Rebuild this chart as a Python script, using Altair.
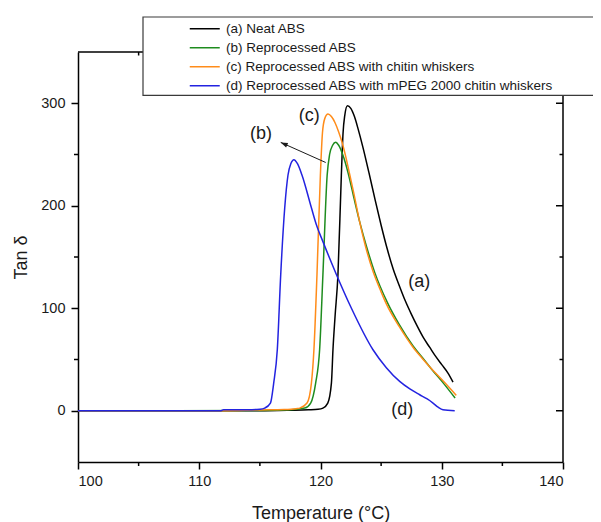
import altair as alt
import pandas as pd

# ---------------- data ----------------
series_names = [
    "(a) Neat ABS",
    "(b) Reprocessed ABS",
    "(c) Reprocessed ABS with chitin whiskers",
    "(d) Reprocessed ABS with mPEG 2000 chitin whiskers",
]
series_colors = ["#000000", "#1e8c1e", "#ff8c1a", "#2323e0"]

a_T = [100, 115, 117.5, 119, 119.8, 120.2, 120.6, 120.9, 121.03, 121.2, 121.44, 121.72, 121.86,
       122.0, 122.22, 122.5, 122.8, 123.1, 123.5, 124.0, 124.5, 125.0, 125.5, 126.0, 126.5,
       127.0, 127.5, 128.0, 128.5, 129.0, 129.5, 130.0, 130.5, 130.93]
a_v = [0, 0, 0.5, 1, 1.5, 2.6, 7.5, 27, 60, 92, 133, 230, 271,
       288, 297.6, 295, 287, 275, 257, 232, 206, 181, 158, 138, 122,
       107, 94, 82, 71, 62, 53, 45, 37, 28]

b_T = [100, 114, 117, 118, 118.7, 119.19, 119.6, 119.93, 120.2, 120.55, 120.75, 121.0, 121.25,
       121.5, 121.8, 122.05, 122.3, 122.75, 123.26, 123.8, 124.47, 125.5, 126.5, 127.65, 128.4,
       129.2, 130.2, 131.1]
b_v = [0, 0.3, 0.8, 1.5, 2.6, 7.5, 27, 60, 133, 230, 250, 259, 262,
       259, 251, 242, 231, 208, 183, 160, 135, 106, 84, 63, 52,
       40, 26, 12.4]

c_T = [100, 112, 115, 117, 118, 118.29, 118.89, 119.25, 119.46, 119.71, 119.99, 120.16, 120.35,
       120.62, 120.9, 121.2, 121.5, 121.8, 122.1, 122.4, 122.75, 123.18, 123.7, 124.33, 125.0,
       125.44, 126.5, 127.63, 128.4, 129.15, 130.2, 131.2]
c_v = [0, 0, 0.8, 1.2, 2, 2.6, 7.5, 27, 60, 133, 230, 271, 285,
       289.5, 287, 281, 272, 261, 247, 231, 212, 187, 161, 136, 116,
       104, 82, 62, 51, 41, 28, 15]

d_T = [100, 111.8, 112, 114, 115, 115.4, 115.87, 116.14, 116.44, 116.72, 117.05, 117.32, 117.55,
       117.81, 118.1, 118.47, 119.25, 119.66, 120.2, 121.31, 122.55, 124.33, 125.43, 126.53,
       127.4, 128.18, 128.8, 129.28, 129.7, 130.1, 131.07]
d_v = [0, 0, 1, 1, 1.5, 2.6, 7.5, 27, 60, 133, 198, 230, 241,
       245, 241, 230, 198, 181.5, 165, 133, 100, 59.5, 42, 28.6,
       21, 15.6, 11.5, 7.5, 3.5, 1, 0]

x_major = [100, 110, 120, 130, 140]
x_minor = [105, 115, 125, 135]
x_top_major = [110, 120, 130]
y_major = [0, 100, 200, 300]
y_minor = [50, 150, 250]

label_T = [128.14, 115.09, 119.08, 126.74]
label_v = [125.9, 270, 287.6, 0.5]
label_text = ["(a)", "(b)", "(c)", "(d)"]

arrow_T = [120.43, 116.72]
arrow_v = [242.2, 261.8]

# ---------------- build tables ----------------
rows = []
for name, Ts, vs in zip(series_names, [a_T, b_T, c_T, d_T], [a_v, b_v, c_v, d_v]):
    for i, (t, v) in enumerate(zip(Ts, vs)):
        rows.append({"T": t, "v": v, "series": name, "i": i})
df = pd.DataFrame(rows)
df_lab = pd.DataFrame({"T": label_T, "v": label_v, "text": label_text})
df_arrow = pd.DataFrame({"T": arrow_T, "v": arrow_v})
df_head = df_arrow.iloc[[1]]
one = pd.DataFrame({"k": [0]})

W, H = 485, 410
FONT = "Liberation Sans"
INK = "#1a1a1a"

xscale = alt.Scale(domain=[100, 140], nice=False, zero=False)
yscale = alt.Scale(domain=[-50, 350], nice=False, zero=False)

lines = alt.Chart(df).mark_line(strokeWidth=1.5, interpolate="monotone").encode(
    x=alt.X("T:Q", scale=xscale,
            axis=alt.Axis(values=x_major, format="d", title="Temperature (°C)", grid=False,
                          domainColor="black", domainWidth=1.5, tickColor="black", tickWidth=1.5,
                          tickSize=7, labelPadding=5, labelFontSize=14.5, labelColor=INK,
                          labelFont=FONT, titleFont=FONT, titleFontSize=18, titleFontWeight="normal",
                          titleColor=INK, titlePadding=17)),
    y=alt.Y("v:Q", scale=yscale,
            axis=alt.Axis(values=y_major, format="d", title="Tan δ", grid=False,
                          domainColor="black", domainWidth=1.5, tickColor="black", tickWidth=1.5,
                          tickSize=7, labelPadding=6, labelFontSize=14.5, labelColor=INK,
                          labelFont=FONT, titleFont=FONT, titleFontSize=18, titleFontWeight="normal",
                          titleColor=INK, titlePadding=10)),
    color=alt.Color("series:N", scale=alt.Scale(domain=series_names, range=series_colors),
                    legend=alt.Legend(orient="none", legendX=120, legendY=-30, title=None,
                                      symbolType="M-3,0H3", symbolSize=100, symbolStrokeWidth=1.5,
                                      labelFont=FONT, labelFontSize=13.5, labelColor=INK,
                                      labelOffset=14.4, rowPadding=4, padding=0,
                                      labelLimit=600)),
    order="i:Q",
)

labels = alt.Chart(df_lab).mark_text(font=FONT, fontSize=18, color=INK).encode(
    x=alt.X("T:Q", scale=xscale), y=alt.Y("v:Q", scale=yscale), text="text:N")

arrow = alt.Chart(df_arrow).mark_line(color=INK, strokeWidth=1).encode(
    x=alt.X("T:Q", scale=xscale), y=alt.Y("v:Q", scale=yscale))
head = alt.Chart(df_head).mark_point(shape="M0,0L-0.35,1L0.35,1Z", filled=True, angle=294,
                                     size=196, color=INK, opacity=1).encode(
    x=alt.X("T:Q", scale=xscale), y=alt.Y("v:Q", scale=yscale))

top_line = alt.Chart(one).mark_rule(color="black", strokeWidth=1.5).encode(
    x=alt.value(0), x2=alt.value(W), y=alt.value(0))
right_line = alt.Chart(one).mark_rule(color="black", strokeWidth=1.5).encode(
    x=alt.value(W), y=alt.value(0), y2=alt.value(H))

def xticks(vals, y0, y1):
    return alt.Chart(pd.DataFrame({"T": vals})).mark_rule(color="black", strokeWidth=1.5).encode(
        x=alt.X("T:Q", scale=xscale), y=alt.value(y0), y2=alt.value(y1))

def yticks(vals, x0, x1):
    return alt.Chart(pd.DataFrame({"v": vals})).mark_rule(color="black", strokeWidth=1.5).encode(
        y=alt.Y("v:Q", scale=yscale), x=alt.value(x0), x2=alt.value(x1))

ticks = [
    xticks(x_minor, H, H + 4),
    xticks(x_minor, 0, 3.5),
    xticks(x_top_major, 0, 7),
    yticks(y_minor, -4, 0),
    yticks(y_major, W - 7, W),
    yticks(y_minor, W - 3.5, W),
]

box = alt.Chart(one).mark_rect(fill="white", stroke="#3a3a3a", strokeWidth=1.2).encode(
    x=alt.value(65), x2=alt.value(540), y=alt.value(-35), y2=alt.value(43.4))

chart = alt.layer(lines, labels, arrow, head, top_line, right_line, *ticks, box).properties(
    width=W, height=H,
    autosize=alt.AutoSizeParams(type="none"),
    padding={"left": 70, "top": 44, "right": 30, "bottom": 60},
).configure_view(strokeWidth=0)

chart.save("out.html", embed_options={"renderer": "svg", "actions": False})
